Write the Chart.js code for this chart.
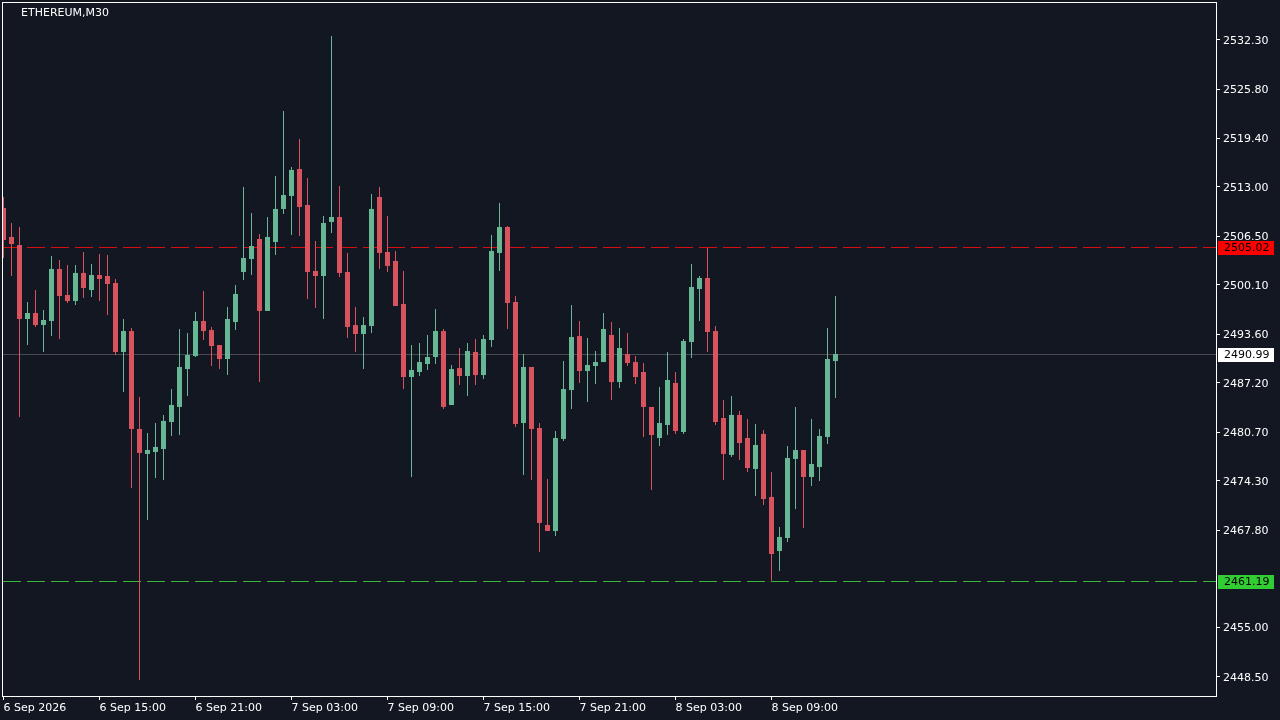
<!DOCTYPE html>
<html>
<head>
<meta charset="utf-8">
<title>ETHEREUM,M30</title>
<script src="https://cdn.jsdelivr.net/npm/chart.js@4/dist/chart.umd.min.js"></script>
<style>
  html, body { margin: 0; padding: 0; background: #131722; }
  canvas { display: block; }
</style>
</head>
<body>
<canvas id="chart" width="1280" height="720"></canvas>
<script>
const title = 'ETHEREUM,M30';

const opens = [2510.20,2506.38,2505.33,2495.59,2496.38,2494.80,2495.33,2502.17,2498.75,2497.96,2501.65,2499.41,2501.38,2501.25,2500.33,2491.25,2494.01,2481.12,2477.84,2478.10,2478.49,2482.04,2484.02,2489.01,2490.72,2495.33,2494.14,2492.17,2490.33,2495.20,2501.78,2503.49,2506.12,2496.65,2505.72,2510.07,2511.78,2515.33,2510.59,2501.91,2501.25,2508.36,2509.01,2501.78,2494.80,2493.62,2494.67,2511.64,2504.41,2503.22,2497.57,2487.96,2488.62,2489.67,2490.59,2494.01,2484.28,2489.14,2488.09,2491.25,2488.22,2492.83,2504.28,2507.70,2497.83,2481.91,2489.28,2481.25,2468.49,2467.70,2479.81,2486.25,2493.35,2488.75,2489.41,2489.93,2493.49,2487.30,2490.99,2489.93,2488.62,2484.02,2479.94,2481.65,2487.17,2480.73,2492.57,2499.54,2500.99,2494.01,2482.57,2477.71,2482.97,2479.94,2475.86,2480.47,2472.18,2465.07,2466.78,2477.18,2478.36,2474.81,2476.12,2480.07,2490.06];
const highs = [2511.64,2508.22,2507.70,2497.83,2499.41,2496.78,2503.88,2503.35,2502.70,2502.70,2504.41,2502.83,2504.15,2504.01,2500.86,2495.59,2494.41,2485.33,2480.60,2481.91,2482.97,2486.38,2494.28,2493.75,2496.51,2499.28,2494.54,2492.17,2497.17,2500.07,2512.96,2509.54,2506.78,2509.01,2514.41,2522.95,2515.59,2519.27,2514.14,2505.85,2509.14,2532.82,2513.09,2504.28,2497.17,2495.85,2512.04,2512.96,2509.14,2504.54,2501.91,2492.17,2492.43,2493.49,2496.91,2494.28,2489.54,2491.78,2492.43,2492.96,2493.49,2506.64,2510.86,2507.83,2498.62,2490.99,2489.28,2481.91,2474.55,2480.86,2490.06,2497.43,2495.33,2493.09,2491.38,2496.38,2495.20,2494.41,2493.75,2490.72,2489.80,2484.02,2486.65,2491.25,2488.62,2492.96,2502.83,2501.25,2504.93,2494.67,2484.94,2485.46,2483.49,2482.44,2481.78,2480.99,2475.47,2468.23,2478.89,2484.02,2478.36,2482.44,2481.12,2494.41,2498.62];
const lows = [2503.62,2501.25,2482.70,2492.17,2494.54,2491.25,2493.35,2492.96,2497.70,2497.43,2498.36,2498.49,2497.96,2496.12,2490.86,2485.99,2473.36,2448.10,2469.15,2474.68,2474.42,2480.20,2480.33,2485.46,2490.59,2492.83,2489.41,2489.01,2488.22,2494.14,2500.72,2501.38,2487.30,2496.65,2504.01,2509.41,2506.64,2506.51,2498.22,2497.04,2495.59,2506.91,2501.12,2493.09,2491.25,2489.01,2493.75,2502.17,2501.78,2497.30,2486.38,2474.81,2488.09,2488.88,2489.67,2483.75,2484.28,2486.91,2485.46,2486.91,2487.70,2491.91,2501.91,2494.28,2481.39,2475.08,2474.42,2464.94,2467.70,2467.04,2479.55,2483.75,2487.17,2484.68,2487.04,2489.93,2484.94,2486.51,2489.41,2487.04,2480.07,2473.10,2478.89,2480.33,2480.47,2480.47,2490.46,2495.33,2491.25,2481.65,2474.42,2477.44,2477.05,2475.47,2472.31,2471.12,2461.19,2462.44,2466.25,2470.60,2468.10,2473.62,2474.28,2479.15,2485.20];
const closes = [2505.99,2505.46,2495.59,2496.38,2494.80,2495.46,2502.17,2498.62,2497.96,2501.65,2499.67,2501.38,2500.86,2500.20,2491.25,2494.01,2481.12,2477.97,2478.36,2478.76,2482.18,2484.28,2489.28,2490.86,2495.33,2494.01,2492.04,2490.33,2495.59,2498.88,2503.62,2505.20,2496.65,2506.38,2510.07,2511.91,2515.20,2510.33,2501.78,2501.25,2508.22,2509.01,2501.65,2494.54,2493.62,2494.80,2510.07,2504.28,2502.57,2497.30,2487.96,2488.88,2489.93,2490.59,2494.01,2484.02,2489.01,2488.09,2491.38,2488.22,2492.96,2504.54,2507.70,2497.70,2481.78,2489.28,2481.12,2468.76,2467.70,2479.94,2486.38,2493.22,2488.75,2489.54,2489.93,2494.28,2487.30,2491.78,2489.80,2487.96,2484.02,2480.33,2481.91,2487.57,2480.86,2492.70,2499.80,2500.99,2493.88,2482.04,2477.84,2482.97,2479.28,2475.99,2479.02,2471.91,2464.68,2466.91,2477.31,2478.36,2474.81,2476.52,2480.20,2490.33,2490.99];

const priceTicks = [2532.30,2525.80,2519.40,2513.00,2506.50,2500.10,2493.60,2487.20,2480.70,2474.30,2467.80,2455.00,2448.50];
const timeTickBars = [0,12,24,36,48,60,72,84,96];
const timeTickLabels = ['6 Sep 2026','6 Sep 15:00','6 Sep 21:00','7 Sep 03:00','7 Sep 09:00','7 Sep 15:00','7 Sep 21:00','8 Sep 03:00','8 Sep 09:00'];

// y position of each horizontal line and the text of its tag
const levelValues = [2505.00,2490.92,2461.06];
const levelLabels = ['2505.02','2490.99','2461.19'];

const GREEN = '#66b894';
const RED = '#d9535f';
const font = { family: '"DejaVu Sans"', size: 11 };

const bars = opens.map((o, i) => i);
const candleColor = ctx => closes[ctx.dataIndex] < opens[ctx.dataIndex] ? RED : GREEN;

function levelLine(value, color, dash, order) {
    return {
        type: 'line',
        data: [{ x: -0.0625, y: value }, { x: 151.5625, y: value }],
        borderColor: color,
        borderWidth: 1,
        borderDash: dash,
        pointRadius: 0,
        order: order,
    };
}

const framePlugin = {
    id: 'frame',
    afterDraw(chart) {
        const { ctx, chartArea, scales } = chart;
        ctx.save();
        ctx.strokeStyle = '#ffffff';
        ctx.lineWidth = 1;
        ctx.strokeRect(chartArea.left - 0.5, chartArea.top - 0.5,
            chartArea.right - chartArea.left + 1, chartArea.bottom - chartArea.top + 1);

        ctx.font = '11px "DejaVu Sans"';
        ctx.textBaseline = 'middle';
        ctx.fillStyle = '#ffffff';
        ctx.fillText(title, 21, 13);

        const tagColors = ['#ff0000', '#ffffff', '#32cd32'];
        levelValues.forEach((v, i) => {
            const y = Math.floor(scales.y.getPixelForValue(v));
            ctx.fillStyle = tagColors[i];
            ctx.fillRect(1218, y - 6, 56, 14);
            ctx.fillStyle = '#000000';
            ctx.fillText(levelLabels[i], 1224, y + 1);
        });
        ctx.restore();
    }
};

new Chart(document.getElementById('chart'), {
    data: {
        datasets: [
            levelLine(levelValues[0], '#d81010', [18, 6], 5),
            levelLine(levelValues[1], '#4a4a55', [], 5),
            levelLine(levelValues[2], '#3cb83c', [18, 6], 5),
            {
                type: 'bar',
                data: bars.map(i => ({ x: i, y: [lows[i], highs[i]] })),
                backgroundColor: candleColor,
                grouped: false,
                inflateAmount: 0,
                maxBarThickness: 1,
                barPercentage: 1,
                categoryPercentage: 1,
                order: 2,
            },
            {
                type: 'bar',
                data: bars.map(i => ({ x: i, y: [opens[i], closes[i]] })),
                backgroundColor: candleColor,
                grouped: false,
                inflateAmount: 0,
                maxBarThickness: 5,
                barPercentage: 1,
                categoryPercentage: 1,
                order: 1,
            },
        ],
    },
    options: {
        responsive: false,
        animation: false,
        devicePixelRatio: 1,
        layout: { autoPadding: false, padding: { left: 3, top: 3, right: 0, bottom: 0 } },
        plugins: { legend: { display: false }, tooltip: { enabled: false } },
        scales: {
            x: {
                type: 'linear',
                offset: false,
                min: -0.0625,
                max: 151.5625,
                afterFit: scale => { scale.height = 24; scale.paddingLeft = 0; scale.paddingRight = 0; },
                afterBuildTicks: scale => { scale.ticks = timeTickBars.map(v => ({ value: v })); },
                grid: { offset: false, drawOnChartArea: false, color: '#ffffff', tickLength: 4, tickColor: '#ffffff' },
                border: { display: false },
                ticks: {
                    color: '#ffffff',
                    font: font,
                    align: 'start',
                    padding: 2,
                    maxRotation: 0,
                    autoSkip: false,
                    callback: (v, i) => timeTickLabels[i],
                },
            },
            y: {
                position: 'right',
                min: 2445.996,
                max: 2537.165,
                afterFit: scale => { scale.width = 64; scale.paddingTop = 0; scale.paddingBottom = 0; },
                afterBuildTicks: scale => { scale.ticks = priceTicks.map(v => ({ value: v })); },
                grid: { drawOnChartArea: false, color: '#ffffff', tickLength: 4, tickColor: '#ffffff' },
                border: { display: false },
                ticks: {
                    color: '#ffffff',
                    font: font,
                    padding: 3,
                    labelOffset: 1,
                    autoSkip: false,
                    callback: v => v.toFixed(2),
                },
            },
        },
    },
    plugins: [framePlugin],
});
</script>
</body>
</html>
